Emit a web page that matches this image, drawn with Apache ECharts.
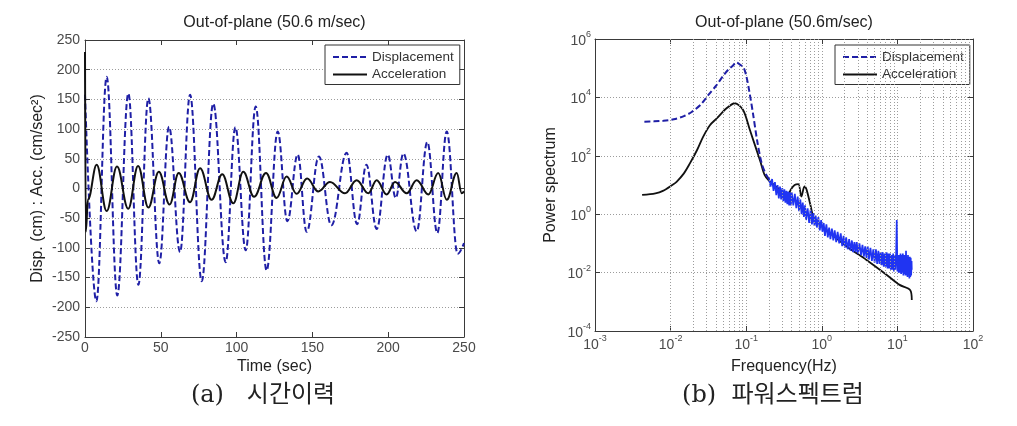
<!DOCTYPE html>
<html>
<head>
<meta charset="utf-8">
<script src="https://cdn.jsdelivr.net/npm/echarts@6/dist/echarts.min.js"></script>
<style>
html,body{margin:0;padding:0;background:#fff;}
#chart{width:1017px;height:426px;}
</style>
</head>
<body>
<div id="chart"></div>
<script>
// ---------- (a) time history ----------
const timeDisp = [0, 7.5, 14.3, 21.3, 28.6, 35.2, 41.8, 49, 55.4, 62.7, 69.3, 77, 84.6, 92.8, 99.2, 106, 112.6, 119.8, 127.1, 133.5, 140.3, 146.2, 154.3, 162.5, 172.6, 179.5, 185.6, 192.4, 199.7, 205, 210, 218.8, 225.8, 232.4, 238.6, 245.8, 250];
const dispValues = [158, -190, 188, -180, 160, -162, 152, -126, 104, -107, 158, -156, 143, -124, 103, -104, 138, -138, 96, -55, 57, -73, 54, -62, 60, -60, 40, -68, 57, -16, 59, -72, 78, -75, 96, -110, -92];

const timeAcc = [0, 0.5, 2, 7.7, 14.3, 21.1, 28.5, 35, 41.8, 48.7, 55.8, 61.8, 69.3, 75.9, 83.5, 90.5, 97.8, 104.4, 111.5, 119.4, 126.4, 133, 139.6, 146.5, 153.9, 161.6, 171.5, 179.2, 186.9, 192.4, 199, 204.5, 212.2, 218.8, 226.5, 233, 238.6, 245.2, 248.5, 250];
const accValues = [230, -73, -18, 40, -38, 37, -34, 38, -32, 28, -27, 26, -23, 34, -19, 24, -25, 28, -14, 26, -16, 20, -9, 17, -5, 11, -8, 14, -8, 14, -10, 11, -8, 14, -10, 26, -19, 26, -8, -5];

// ---------- (b) power spectrum ----------
const specDispFreq = [0.0045, 0.006, 0.008, 0.011, 0.015, 0.019, 0.025, 0.032, 0.04, 0.05, 0.058, 0.066, 0.074, 0.083, 0.092, 0.1, 0.11, 0.123, 0.14, 0.16, 0.18, 0.2];
const specDispPow = [1480, 1510, 1580, 1780, 2290, 3160, 5620, 12600, 25100, 56200, 89100, 120000, 158000, 132000, 107000, 56000, 16000, 2800, 316, 56, 25, 16];

const specNoiseFreq = [0.2, 0.21, 0.22, 0.23, 0.24, 0.25, 0.26, 0.27, 0.28, 0.29, 0.3, 0.31, 0.32, 0.33, 0.34, 0.35, 0.36, 0.37, 0.38, 0.39, 0.4, 0.42, 0.44, 0.46, 0.48, 0.5, 0.52, 0.54, 0.56, 0.58, 0.6, 0.62, 0.65, 0.68, 0.71, 0.74, 0.77, 0.8, 0.83, 0.86, 0.9, 0.94, 0.98, 1.02, 1.06, 1.1, 1.15, 1.2, 1.25, 1.3, 1.36, 1.42, 1.48, 1.55, 1.62, 1.7, 1.78, 1.86, 1.94, 2.02, 2.1, 2.2, 2.3, 2.4, 2.5, 2.6, 2.7, 2.8, 2.9, 3.0, 3.15, 3.3, 3.45, 3.6, 3.75, 3.9, 4.05, 4.2, 4.4, 4.6, 4.8, 5.0, 5.2, 5.4, 5.6, 5.8, 6.0, 6.2, 6.4, 6.6, 6.8, 7.0, 7.2, 7.4, 7.6, 7.8, 8.0, 8.2, 8.4, 8.6, 8.8, 9.0, 9.2, 9.4, 9.6, 9.8, 10.0, 10.2, 10.4, 10.6, 10.8, 11.0, 11.2, 11.4, 11.6, 11.8, 12.0, 12.2, 12.4, 12.6, 12.8, 13.0, 13.2, 13.4, 13.6, 13.8, 14.0, 14.2, 14.4, 14.6, 14.8, 15.0, 15.2, 15.4, 15.5];
const specNoisePow = [17, 8.9, 16, 6.3, 12.6, 4.5, 10, 3.5, 8.9, 3.2, 7.9, 2.8, 7.1, 2.5, 6.3, 2.2, 6.0, 2.0, 5.6, 2.0, 5.6, 2.0, 5.0, 1.6, 4.0, 1.26, 3.2, 1.0, 2.5, 0.8, 2.0, 0.63, 1.6, 0.5, 1.4, 0.45, 1.1, 0.4, 0.9, 0.35, 0.8, 0.28, 0.63, 0.25, 0.5, 0.18, 0.45, 0.16, 0.35, 0.14, 0.32, 0.126, 0.28, 0.11, 0.25, 0.1, 0.22, 0.08, 0.18, 0.071, 0.16, 0.063, 0.14, 0.056, 0.126, 0.05, 0.11, 0.05, 0.11, 0.045, 0.1, 0.04, 0.089, 0.035, 0.079, 0.032, 0.079, 0.028, 0.071, 0.025, 0.063, 0.022, 0.063, 0.02, 0.056, 0.02, 0.05, 0.018, 0.05, 0.016, 0.045, 0.016, 0.05, 0.014, 0.045, 0.014, 0.045, 0.0126, 0.04, 0.0126, 0.045, 0.011, 0.04, 0.0126, 0.035, 0.63, 0.011, 0.04, 0.01, 0.04, 0.01, 0.045, 0.0089, 0.04, 0.01, 0.045, 0.0079, 0.04, 0.0089, 0.04, 0.0079, 0.056, 0.0079, 0.035, 0.0071, 0.04, 0.0079, 0.035, 0.0063, 0.035, 0.0071, 0.032, 0.0079, 0.025, 0.0126];

const specAccFreq = [0.0042, 0.0063, 0.0079, 0.0105, 0.012, 0.015, 0.018, 0.0224, 0.0269, 0.0331, 0.0407, 0.055, 0.0708, 0.091, 0.112, 0.138, 0.155, 0.175, 0.2, 0.24, 0.28, 0.347, 0.39, 0.437, 0.49, 0.537, 0.59, 0.63, 0.71, 0.78, 1.15, 2.14, 3.9, 7.24, 10.7, 14.8, 15.5];
const specAccPow = [4.6, 5.2, 6.3, 10, 12.9, 25, 55, 158, 447, 1120, 1900, 4270, 6310, 3720, 760, 150, 60, 22, 14, 9.5, 6.8, 4, 7, 10, 10.7, 4, 8.9, 6.8, 2, 0.81, 0.29, 0.078, 0.027, 0.0083, 0.0038, 0.0025, 0.00115];

const logDecades = [0.001, 0.01, 0.1, 1, 10];
const minorMultipliers = [2, 3, 4, 5, 6, 7, 8, 9];

const titles = ['Out-of-plane (50.6 m/sec)', 'Out-of-plane (50.6m/sec)'];
const captions = ['(a)   시간이력', '(b)  파워스펙트럼'];
const legendNames = ['Displacement', 'Acceleration'];

// ---------- helpers ----------
const FONT = "'Liberation Sans', Arial, Helvetica, sans-serif";
const AX = '#3a3a3a', LBL = '#4a4a4a', GRIDC = '#9c9c9c';
const BLUE = '#1f1fa6', BRIGHT = '#2034f2', BLACK = '#111111';
const zip = (a, b) => a.map((v, i) => [v, b[i]]);
const minorFreqs = [];
logDecades.forEach(d => minorMultipliers.forEach(m => minorFreqs.push(+(d * m).toPrecision(3))));

const supLabel = v => '{b|10}{e|' + Math.round(Math.log10(v)) + '}';
const richExp = {
  b: {fontSize: 14, fontFamily: FONT, color: LBL, padding: [4, 0, 0, 0]},
  e: {fontSize: 9, fontFamily: FONT, color: LBL, verticalAlign: 'top'}
};
const dotted = {type: [1, 2], color: GRIDC, width: 1};
const axLine = {show: true, onZero: false, lineStyle: {color: AX, width: 1}};
const tick = {show: true, inside: true, length: 5, lineStyle: {color: AX, width: 1}};
const nameStyle = {fontSize: 16, color: '#222', fontFamily: FONT};

const chart = echarts.init(document.getElementById('chart'), null, {renderer: 'canvas'});
chart.setOption({
  animation: false,
  backgroundColor: '#fff',
  title: [
    {text: titles[0], left: 274.5, top: 15, textAlign: 'center', padding: 0,
     textStyle: {fontSize: 16, fontWeight: 'normal', color: '#222', fontFamily: FONT}},
    {text: titles[1], left: 784, top: 15, textAlign: 'center', padding: 0,
     textStyle: {fontSize: 16, fontWeight: 'normal', color: '#222', fontFamily: FONT}},
    {text: captions[0], left: 263, top: 384, textAlign: 'center', padding: 0,
     textStyle: {fontSize: 24, fontWeight: 'normal', color: '#222', fontFamily: "'DejaVu Serif', 'Noto Sans CJK KR', serif"}},
    {text: captions[1], left: 773, top: 384, textAlign: 'center', padding: 0,
     textStyle: {fontSize: 24, fontWeight: 'normal', color: '#222', fontFamily: "'DejaVu Serif', 'Noto Sans CJK KR', serif"}}
  ],
  legend: [0, 1].map(i => ({
    left: i === 0 ? 325 : 835, top: 45, orient: 'vertical',
    data: legendNames, itemWidth: 34, itemHeight: 14, itemGap: 3.5,
    padding: [5, 6, 3, 7], borderColor: '#333', borderWidth: 1, borderRadius: 0,
    backgroundColor: '#fff', selectedMode: false,
    itemStyle: {opacity: 0, borderWidth: 0},
    textStyle: {fontSize: 13.5, color: '#333', fontFamily: FONT}
  })),
  grid: [
    {left: 85, top: 40, width: 379, height: 297, outerBoundsMode: 'none', containLabel: false},
    {left: 595, top: 39, width: 378, height: 292, outerBoundsMode: 'none', containLabel: false}
  ],
  xAxis: [
    {gridIndex: 0, type: 'value', min: 0, max: 250, interval: 50, position: 'bottom',
     axisLine: axLine, axisTick: tick, splitLine: {show: false},
     axisLabel: {margin: 4, fontSize: 14, color: LBL, fontFamily: FONT},
     name: 'Time (sec)', nameLocation: 'middle', nameGap: 22, nameMoveOverlap: false, nameTextStyle: nameStyle},
    {gridIndex: 0, type: 'value', min: 0, max: 250, interval: 50, position: 'top',
     axisLine: axLine, axisTick: tick, axisLabel: {show: false}, splitLine: {show: false}},
    {gridIndex: 1, type: 'log', logBase: 10, min: 0.001, max: 100, position: 'bottom',
     axisLine: axLine, axisTick: tick, splitLine: {show: true, lineStyle: dotted},
     axisLabel: {margin: 3, formatter: supLabel, rich: richExp},
     name: 'Frequency(Hz)', nameLocation: 'middle', nameGap: 28, nameMoveOverlap: false, nameTextStyle: nameStyle},
    {gridIndex: 1, type: 'log', logBase: 10, min: 0.001, max: 100, position: 'top',
     axisLine: axLine, axisTick: tick, axisLabel: {show: false}, splitLine: {show: false}}
  ],
  yAxis: [
    {gridIndex: 0, type: 'value', min: -250, max: 250, interval: 50, position: 'left',
     axisLine: axLine, axisTick: tick, splitLine: {show: true, lineStyle: dotted},
     axisLabel: {margin: 5, fontSize: 14, color: LBL, fontFamily: FONT},
     name: 'Disp. (cm) : Acc. (cm/sec²)', nameLocation: 'middle', nameRotate: 90, nameGap: 39,
     nameMoveOverlap: false, nameTextStyle: nameStyle},
    {gridIndex: 0, type: 'value', min: -250, max: 250, interval: 50, position: 'right',
     axisLine: axLine, axisTick: tick, axisLabel: {show: false}, splitLine: {show: false}},
    {gridIndex: 1, type: 'log', logBase: 100, min: 1e-4, max: 1e6, position: 'left',
     axisLine: axLine, axisTick: tick, splitLine: {show: true, lineStyle: dotted},
     axisLabel: {margin: 4, formatter: supLabel, rich: richExp},
     name: 'Power spectrum', nameLocation: 'middle', nameRotate: 90, nameGap: 36,
     nameMoveOverlap: false, nameTextStyle: nameStyle},
    {gridIndex: 1, type: 'log', logBase: 100, min: 1e-4, max: 1e6, position: 'right',
     axisLine: axLine, axisTick: tick, axisLabel: {show: false}, splitLine: {show: false}}
  ],
  series: [
    {name: legendNames[0], type: 'line', xAxisIndex: 0, yAxisIndex: 0, z: 3,
     data: zip(timeDisp, dispValues), symbol: 'none', showSymbol: false,
     smooth: 0.4, smoothMonotone: 'x',
     itemStyle: {color: BLUE}, lineStyle: {color: BLUE, width: 2, type: [6, 3]}},
    {name: legendNames[1], type: 'line', xAxisIndex: 0, yAxisIndex: 0, z: 4,
     data: zip(timeAcc, accValues), symbol: 'none', showSymbol: false,
     smooth: 0.4, smoothMonotone: 'x',
     itemStyle: {color: BLACK}, lineStyle: {color: BLACK, width: 2}},
    {name: legendNames[1], type: 'line', xAxisIndex: 2, yAxisIndex: 2, z: 3,
     data: zip(specAccFreq, specAccPow), symbol: 'none', showSymbol: false, smooth: 0.3,
     itemStyle: {color: BLACK}, lineStyle: {color: BLACK, width: 1.8},
     markLine: {silent: true, symbol: ['none', 'none'], label: {show: false}, animation: false,
       emphasis: {disabled: true}, lineStyle: dotted,
       data: minorFreqs.map(f => ({xAxis: f}))}},
    {name: 'Displacement band', type: 'line', xAxisIndex: 2, yAxisIndex: 2, z: 4,
     data: zip(specNoiseFreq, specNoisePow), symbol: 'none', showSymbol: false,
     itemStyle: {color: BRIGHT}, lineStyle: {color: BRIGHT, width: 1.7}},
    {name: legendNames[0], type: 'line', xAxisIndex: 2, yAxisIndex: 2, z: 5,
     data: zip(specDispFreq, specDispPow), symbol: 'none', showSymbol: false, smooth: 0.3,
     itemStyle: {color: BLUE}, lineStyle: {color: BLUE, width: 2, type: [6, 3]}}
  ]
});
</script>
</body>
</html>
